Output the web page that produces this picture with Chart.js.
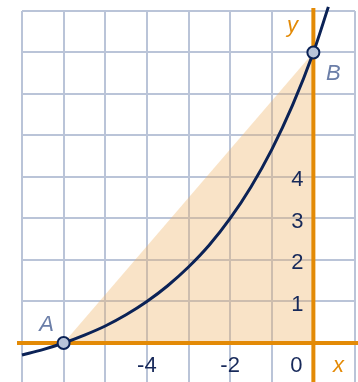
<!DOCTYPE html>
<html>
<head>
<meta charset="utf-8">
<script src="https://cdn.jsdelivr.net/npm/chart.js@4"></script>
<style>
    html, body { margin: 0; padding: 0; background: #fff; }
    canvas { display: block; }
</style>
</head>
<body>
<canvas id="chart" width="358" height="382"></canvas>
<script>
// Curve
const curveX = [-7, -6.5, -6, -5.5, -5, -4.5, -4, -3.5, -3, -2.5, -2, -1.5, -1, -0.5, 0, 0.36];
const curveY = [-0.29, -0.16, 0, 0.19, 0.41, 0.68, 1, 1.38, 1.83, 2.36, 3, 3.76, 4.66, 5.73, 7, 8.1];

// Named points A and B
const pointNames = ['A', 'B'];
const pointX = [-6, 0];
const pointY = [0, 7];

// Shaded triangle A - B - origin
const shadeX = [-6, 0, 0];
const shadeY = [0, 7, 0];

// Tick labels
const xTickValues = [-4, -2, 0];
const yTickValues = [1, 2, 3, 4];

const NAVY = '#0b2256';
const ORANGE = '#e38a06';
const GRID = '#bac4d8';
const FONT = "'Liberation Sans', Arial, sans-serif";

const toXY = (xs, ys) => xs.map((x, i) => ({ x: x, y: ys[i] }));

// hidden tick labels should not take any room
const noRoom = (scale) => {
    if (scale.isHorizontal()) scale.height = 0;
    else scale.width = 0;
    scale.paddingLeft = scale.paddingRight = scale.paddingTop = scale.paddingBottom = 0;
};

// Draws tick numbers, axis names and point names
const labelsPlugin = {
    id: 'labels',
    afterDatasetsDraw(chart) {
        const ctx = chart.ctx;
        const xs = chart.scales.x;
        const ys = chart.scales.y;
        const x0 = xs.getPixelForValue(0);
        const y0 = ys.getPixelForValue(0);
        ctx.save();
        ctx.textBaseline = 'middle';

        ctx.font = `22px ${FONT}`;
        ctx.fillStyle = '#17295a';
        ctx.textAlign = 'center';
        xTickValues.forEach(v => {
            const px = v === 0 ? x0 - 17 : xs.getPixelForValue(v);
            ctx.fillText(String(v), px, y0 + 23);
        });
        ctx.textAlign = 'right';
        yTickValues.forEach(v => {
            ctx.fillText(String(v), x0 - 10, ys.getPixelForValue(v) + 3);
        });

        ctx.font = `italic 22px ${FONT}`;
        ctx.fillStyle = ORANGE;
        ctx.textAlign = 'center';
        ctx.fillText('y', x0 - 21, ys.getPixelForValue(7.65));
        ctx.fillText('x', x0 + 25, y0 + 23);

        ctx.fillStyle = '#6b7ea8';
        pointNames.forEach((n, i) => {
            const px = xs.getPixelForValue(pointX[i]);
            const py = ys.getPixelForValue(pointY[i]);
            if (n === 'A') ctx.fillText(n, px - 17, py - 18);
            else ctx.fillText(n, px + 20, py + 21);
        });
        ctx.restore();
    }
};

new Chart(document.getElementById('chart'), {
    type: 'scatter',
    data: {
        datasets: [
            {
                // shaded triangle
                type: 'line',
                data: toXY(shadeX, shadeY),
                showLine: true,
                fill: true,
                backgroundColor: 'rgba(238, 178, 100, 0.36)',
                borderWidth: 0,
                pointRadius: 0,
                order: 5
            },
            {
                // x axis
                type: 'line',
                data: [{ x: -7.12, y: 0 }, { x: 1.1, y: 0 }],
                showLine: true,
                borderColor: ORANGE,
                borderWidth: 4,
                pointRadius: 0,
                clip: false,
                order: 4
            },
            {
                // y axis
                type: 'line',
                data: [{ x: 0, y: -1 }, { x: 0, y: 8.07 }],
                showLine: true,
                borderColor: ORANGE,
                borderWidth: 4,
                pointRadius: 0,
                clip: false,
                order: 3
            },
            {
                type: 'line',
                data: toXY(curveX, curveY),
                showLine: true,
                borderColor: NAVY,
                borderWidth: 3,
                cubicInterpolationMode: 'monotone',
                pointRadius: 0,
                clip: false,
                order: 2
            },
            {
                data: toXY(pointX, pointY),
                pointRadius: 6,
                pointBackgroundColor: '#b8c4da',
                pointBorderColor: NAVY,
                pointBorderWidth: 2,
                clip: false,
                order: 1
            }
        ]
    },
    options: {
        responsive: false,
        animation: false,
        layout: { autoPadding: false, padding: { left: 22, top: 11, right: 3, bottom: 0 } },
        plugins: {
            legend: { display: false },
            tooltip: { enabled: false }
        },
        scales: {
            x: {
                type: 'linear',
                min: -7,
                max: 1,
                afterFit: noRoom,
                border: { display: false },
                ticks: { display: false, stepSize: 1, padding: 0 },
                grid: { color: GRID, lineWidth: 2, drawTicks: false }
            },
            y: {
                type: 'linear',
                min: -0.94,
                max: 8,
                afterFit: noRoom,
                afterBuildTicks(scale) {
                    scale.ticks = [0, 1, 2, 3, 4, 5, 6, 7, 8].map(v => ({ value: v }));
                },
                border: { display: false },
                ticks: { display: false, padding: 0 },
                grid: { color: GRID, lineWidth: 2, drawTicks: false }
            }
        }
    },
    plugins: [labelsPlugin]
});
</script>
</body>
</html>
